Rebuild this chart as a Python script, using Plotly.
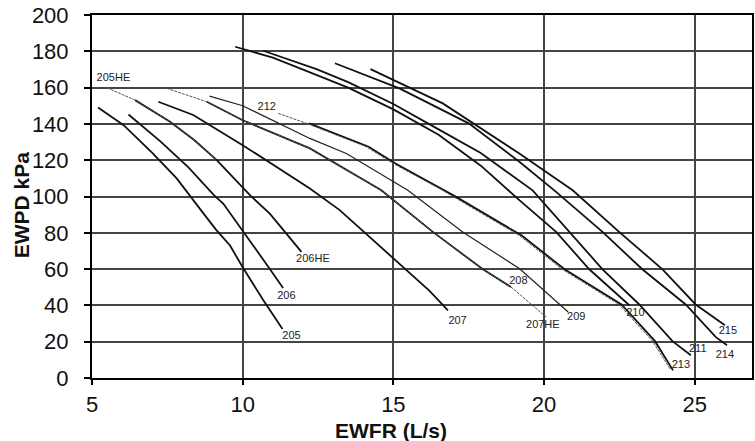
import plotly.graph_objects as go

# ---- data (EWFR L/s vs EWPD kPa) ----
c205_x = [5.2, 6.05, 7.0, 7.81, 8.5, 9.1, 9.58, 10.0, 10.68, 11.32]
c205_y = [149, 139.3, 124, 110, 95, 82, 73, 61, 43, 27]

c206_x = [6.21, 7.26, 8.2, 9.03, 9.36, 10.0, 10.46, 10.9, 11.34]
c206_y = [145.2, 130.5, 116, 101, 96, 81.4, 70.4, 60, 49.6]

c206he_x = [6.43, 7.59, 8.4, 9.14, 10.24, 10.9, 11.95]
c206he_y = [153.1, 141.2, 131, 120, 100.7, 90.6, 69.5]

c205he_x = [5.5, 6.43, 7.59, 8.4, 9.14]
c205he_y = [159.9, 153.1, 141.2, 131, 120]

c207_x = [7.2, 8.36, 10.0, 12.23, 13.22, 14.0, 15.43, 16.2, 16.81]
c207_y = [152.2, 144.9, 128.3, 104.4, 92.5, 81, 59.4, 48, 37.3]

c208_x = [8.81, 10.0, 12.23, 14.6, 16.31, 17.97, 18.9]
c208_y = [152.2, 142, 126.5, 103.4, 80.5, 59.9, 50.2]

c207he_x = [7.48, 8.81, 10.0, 12.23, 14.6, 16.31, 17.97, 18.9, 20.07]
c207he_y = [159.6, 152.2, 142, 126.5, 103.4, 80.5, 59.9, 50.2, 33.6]

c209_x = [8.9, 10.0, 12.23, 13.44, 15.48, 17.3, 19.18, 20.8]
c209_y = [155.3, 150, 132, 123.7, 103.4, 80.5, 60.3, 36.4]

c212_x = [11.18, 12.12, 14.1, 14.99, 16.64, 17.0, 19.18, 20.6, 22.49, 23.6, 24.2]
c212_y = [145.8, 140.3, 127.4, 118.2, 103.4, 99.8, 78.5, 59.9, 40.5, 20.3, 4.5]

c213_x = [12.2, 14.18, 15.07, 16.72, 17.08, 19.26, 20.68, 22.57, 23.68, 24.28]
c213_y = [140.3, 127.4, 118.2, 103.4, 99.8, 78.5, 59.9, 40.5, 20.3, 4.2]

c210_x = [9.75, 11.0, 11.9, 13.5, 15.0, 16.5, 17.9, 19.18, 20.4, 21.5, 22.83]
c210_y = [182.5, 176.5, 170.6, 160, 148, 134, 117, 98, 80.5, 59.9, 40.1]

c211_x = [10.68, 11.9, 12.45, 13.5, 15.0, 16.5, 17.9, 19.62, 20.84, 21.94, 23.16, 24.26, 24.87]
c211_y = [180.3, 173.4, 170.2, 163, 151, 137, 124, 103.4, 80.5, 59.9, 40.5, 20.3, 12.5]

c214_x = [13.06, 15.2, 17.5, 19.18, 20.34, 21.94, 23.26, 24.7, 25.7, 26.07]
c214_y = [173.4, 159.6, 140.3, 119.1, 103.4, 80.5, 59.9, 40.5, 22.5, 18]

c215_x = [14.24, 16.64, 19.18, 20.95, 22.49, 23.93, 25.03, 26.0]
c215_y = [170.2, 151.3, 123.7, 103.4, 80.5, 59.9, 40.5, 29.1]

label_text = ["205", "206", "206HE", "205HE", "207", "208", "207HE", "209",
              "212", "213", "210", "211", "214", "215"]
label_x = [11.62, 11.45, 12.33, 5.71, 17.13, 19.15, 19.96, 21.07,
           10.8, 24.54, 23.03, 25.1, 26.0, 26.1]
label_y = [23.2, 45, 65.4, 165.3, 31.2, 53.3, 29.1, 33.3,
           149.3, 7, 35.6, 15.8, 12.5, 26]

x_ticks = [5, 10, 15, 20, 25]
y_ticks = [0, 20, 40, 60, 80, 100, 120, 140, 160, 180, 200]

FONT = "Liberation Sans, Arial, sans-serif"

fig = go.Figure()

solid = dict(color="#111111", width=1.8)
thin = dict(color="#222222", width=1.2)
dashed = dict(color="#555555", width=1.0, dash="3px,1px")

series = [
    (c205_x, c205_y, solid),
    (c206_x, c206_y, solid),
    (c206he_x, c206he_y, solid),
    (c207_x, c207_y, solid),
    (c208_x, c208_y, solid),
    (c209_x, c209_y, thin),
    (c213_x, c213_y, solid),
    (c210_x, c210_y, solid),
    (c211_x, c211_y, solid),
    (c214_x, c214_y, solid),
    (c215_x, c215_y, solid),
    (c205he_x, c205he_y, dashed),
    (c207he_x, c207he_y, dashed),
    (c212_x, c212_y, dashed),
]
for xs, ys, ln in series:
    fig.add_trace(go.Scatter(x=xs, y=ys, mode="lines", line=ln,
                             showlegend=False, hoverinfo="skip"))

fig.add_trace(go.Scatter(x=label_x, y=label_y, mode="text", text=label_text,
                         textfont=dict(family=FONT, size=11, color="#222"),
                         showlegend=False, hoverinfo="skip"))

axis_common = dict(
    showgrid=True, gridcolor="#444444", gridwidth=1.5,
    showline=True, linecolor="#000000", linewidth=2, mirror=True,
    ticks="outside", tickcolor="#000", tickwidth=1.5,
    zeroline=False, ticklabeloverflow="allow",
    tickfont=dict(family=FONT, size=22, color="#111"),
)

fig.update_layout(
    width=755, height=441,
    margin=dict(l=92, r=1, t=15, b=63),
    paper_bgcolor="white", plot_bgcolor="white",
    xaxis=dict(range=[5, 26.9], tickvals=x_ticks, ticklen=5, ticklabelstandoff=1, **axis_common),
    yaxis=dict(range=[0, 200], tickvals=y_ticks, ticklen=6, ticklabelstandoff=11, **axis_common),
    annotations=[
        dict(text="<b>EWFR (L/s)</b>", xref="paper", yref="paper", x=0.4535, y=0,
             xanchor="center", yanchor="middle", yshift=-52, showarrow=False,
             font=dict(family=FONT, size=21, color="#111")),
        dict(text="<b>EWPD kPa</b>", xref="paper", yref="paper", x=0, y=0.476,
             xanchor="center", yanchor="middle", xshift=-71, textangle=-90,
             showarrow=False, font=dict(family=FONT, size=21, color="#111")),
    ],
)

fig.write_html("out.html", config={"displayModeBar": False},
               post_script="document.body.style.margin='0px';document.body.style.overflow='hidden';")
